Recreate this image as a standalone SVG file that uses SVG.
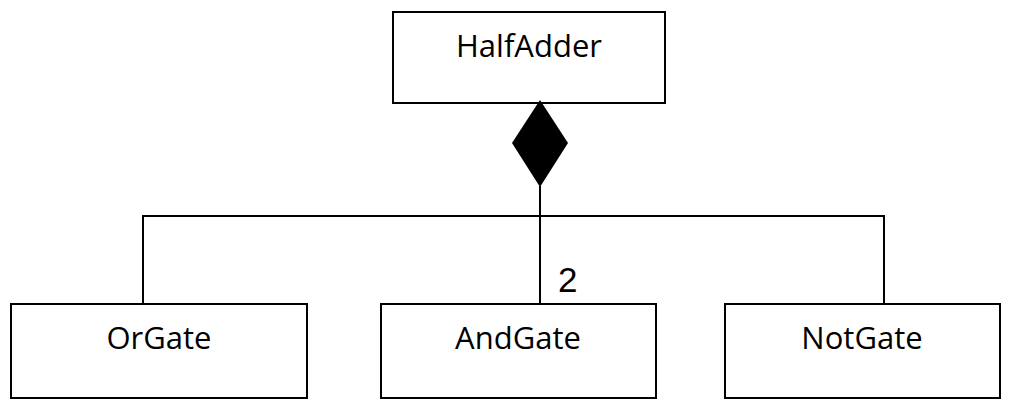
<svg xmlns="http://www.w3.org/2000/svg" width="1013" height="404" viewBox="0 0 1013 404">
<style>
.box{fill:#fff;stroke:#000;stroke-width:2}
.lbl{font-family:"Open Sans","Noto Sans",sans-serif;font-size:31px;fill:#000;text-anchor:middle}
.con{fill:none;stroke:#000;stroke-width:2}
.mult{font-family:"Liberation Sans",Arial,sans-serif;font-size:35px;fill:#000}
</style>
<rect width="1013" height="404" fill="#fff"/>
<g id="HalfAdder">
<rect class="box" x="393" y="12" width="272" height="91"/>
<text class="lbl" x="529" y="57">HalfAdder</text>
</g>
<g id="OrGate">
<rect class="box" x="11" y="304" width="296" height="94"/>
<text class="lbl" x="159" y="349">OrGate</text>
</g>
<g id="AndGate">
<rect class="box" x="381" y="304" width="275" height="94"/>
<text class="lbl" x="518" y="349">AndGate</text>
</g>
<g id="NotGate">
<rect class="box" x="725" y="304" width="275" height="94"/>
<text class="lbl" x="862" y="349">NotGate</text>
</g>
<g id="connectors">
<polyline class="con" points="143,303 143,216 884,216 884,303"/>
<line class="con" x1="540" y1="186" x2="540" y2="303"/>
<polygon points="540,100 568,143 540,187 512,143" fill="#000"/>
<text class="mult" x="558" y="292">2</text>
</g>
</svg>
